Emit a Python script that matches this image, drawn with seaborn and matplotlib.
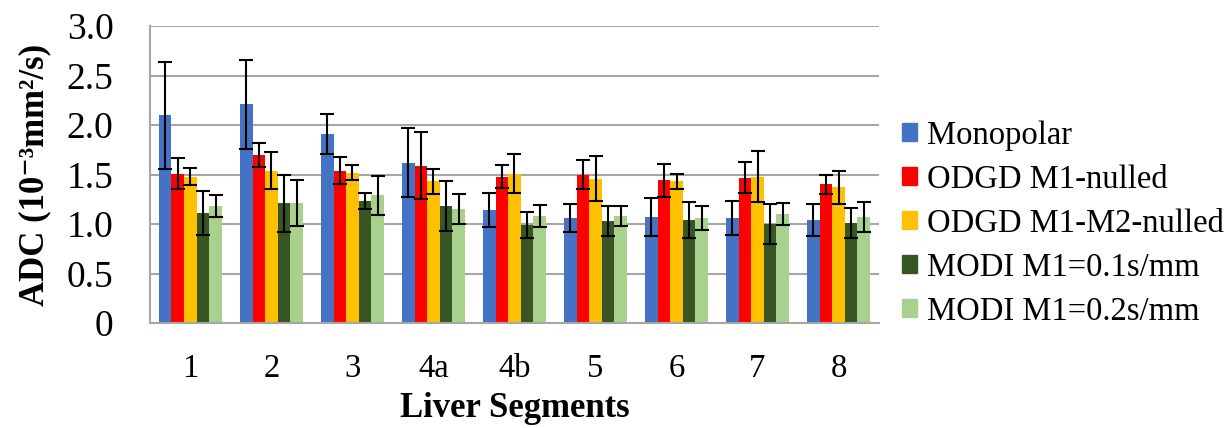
import numpy as np
import pandas as pd
import matplotlib
matplotlib.use("Agg")
import matplotlib.pyplot as plt
import seaborn as sns

segments = ["1", "2", "3", "4a", "4b", "5", "6", "7", "8"]
series = ["Monopolar", "ODGD M1-nulled", "ODGD M1-M2-nulled",
          "MODI M1=0.1s/mm", "MODI M1=0.2s/mm"]
colors = ["#4472C4", "#FF0000", "#FFC000", "#375623", "#A9D18E"]

monopolar = [2.10, 2.21, 1.91, 1.62, 1.14, 1.06, 1.07, 1.06, 1.04]
odgd_m1 = [1.51, 1.70, 1.54, 1.59, 1.48, 1.50, 1.44, 1.47, 1.40]
odgd_m1m2 = [1.48, 1.54, 1.52, 1.43, 1.51, 1.46, 1.43, 1.48, 1.37]
modi_01 = [1.11, 1.21, 1.23, 1.18, 0.99, 1.03, 1.04, 1.00, 1.01]
modi_02 = [1.18, 1.21, 1.29, 1.15, 1.08, 1.08, 1.06, 1.10, 1.07]

monopolar_sd = [0.54, 0.45, 0.20, 0.35, 0.17, 0.14, 0.19, 0.17, 0.16]
odgd_m1_sd = [0.16, 0.12, 0.14, 0.34, 0.12, 0.15, 0.17, 0.16, 0.10]
odgd_m1m2_sd = [0.09, 0.19, 0.08, 0.13, 0.20, 0.23, 0.08, 0.26, 0.17]
modi_01_sd = [0.22, 0.29, 0.08, 0.25, 0.13, 0.15, 0.18, 0.20, 0.15]
modi_02_sd = [0.11, 0.23, 0.20, 0.15, 0.11, 0.10, 0.12, 0.11, 0.15]

means = [monopolar, odgd_m1, odgd_m1m2, modi_01, modi_02]
sds = [monopolar_sd, odgd_m1_sd, odgd_m1m2_sd, modi_01_sd, modi_02_sd]

df = pd.DataFrame({
    "segment": np.tile(segments, len(series)),
    "method": np.repeat(series, len(segments)),
    "adc": np.concatenate(means),
    "sd": np.concatenate(sds),
})

sns.set_style("white")
plt.rcParams["font.family"] = ["Liberation Serif", "DejaVu Serif"]
plt.rcParams["text.color"] = "black"
plt.rcParams["axes.labelcolor"] = "black"

fig = plt.figure(figsize=(12.26, 4.28), dpi=100)
ax = fig.add_axes([0.1223, 0.2453, 0.5947, 0.6937])

sns.barplot(data=df, x="segment", y="adc", hue="method", order=segments,
            hue_order=series, palette=colors, errorbar=None, width=0.78,
            saturation=1, linewidth=0, legend=False, ax=ax)

# standard deviation whiskers at each bar's centre
for container, sd in zip(ax.containers, sds):
    for bar, s in zip(container, sd):
        cx = bar.get_x() + bar.get_width() / 2
        ax.errorbar(cx, bar.get_height(), yerr=s, fmt="none", ecolor="black",
                    elinewidth=1.5, capsize=5, capthick=1.5, zorder=5)

ax.set_ylim(0, 3.0)
ax.set_xlim(-0.5, len(segments) - 0.5)
ax.set_yticks(np.arange(0, 3.01, 0.5))
ax.set_yticklabels(["0", "0.5", "1.0", "1.5", "2.0", "2.5", "3.0"])
ax.yaxis.grid(True, color="#a6a6a6", linewidth=1.5)
ax.set_axisbelow(True)

for side in ["top", "right"]:
    ax.spines[side].set_visible(False)
for side in ["left", "bottom"]:
    ax.spines[side].set_color("#a6a6a6")
    ax.spines[side].set_linewidth(1.5)

ax.tick_params(axis="y", which="major", length=7.2, width=1.2, color="#a6a6a6",
               labelcolor="black", labelsize=27, pad=19)
ax.tick_params(axis="x", which="major", length=0, labelsize=23.5, pad=22,
               labelcolor="black")
ax.set_xticks(np.arange(-0.5, len(segments)), minor=True)
ax.tick_params(axis="x", which="minor", length=8, width=1.2, color="#a6a6a6")

ax.set_xlabel("Liver Segments", fontsize=25, fontweight="bold", labelpad=6)
ax.set_ylabel("ADC (10\u207b\u00b3mm\u00b2/s)", fontsize=25,
              fontweight="bold", labelpad=11)

handles = [plt.Rectangle((0, 0), 1, 1, color=c) for c in colors]
fig.legend(handles, series, loc="center left",
           bbox_to_anchor=(902 / 1226, 1 - 223.5 / 428),
           bbox_transform=fig.transFigure, frameon=False, fontsize=23.5,
           handlelength=0.46, handleheight=0.46, handletextpad=0.31,
           labelspacing=0.41, borderpad=0, borderaxespad=0)

fig.savefig("out.png", dpi=100)
